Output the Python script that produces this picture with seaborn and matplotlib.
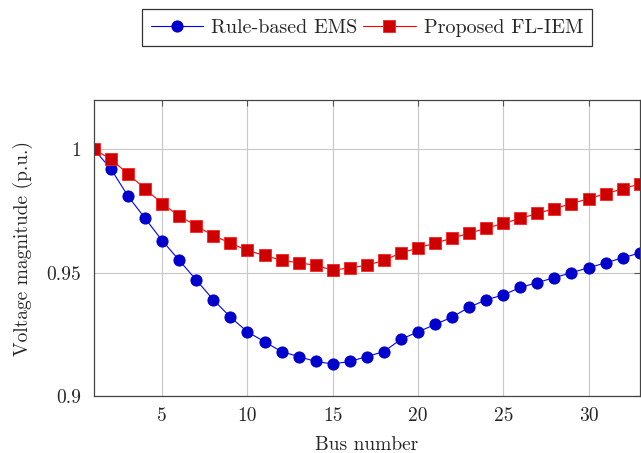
import numpy as np
import pandas as pd
import matplotlib
matplotlib.use("Agg")
import matplotlib.pyplot as plt
import seaborn as sns

# data
bus = list(range(1, 34))
rule_based = [1.000, 0.992, 0.981, 0.972, 0.963, 0.955, 0.947, 0.939, 0.932, 0.926,
              0.922, 0.918, 0.916, 0.914, 0.913, 0.914, 0.916, 0.918, 0.923, 0.926,
              0.929, 0.932, 0.936, 0.939, 0.941, 0.944, 0.946, 0.948, 0.950, 0.952,
              0.954, 0.956, 0.958]
proposed = [1.000, 0.996, 0.990, 0.984, 0.978, 0.973, 0.969, 0.965, 0.962, 0.959,
            0.957, 0.955, 0.954, 0.953, 0.951, 0.952, 0.953, 0.955, 0.958, 0.960,
            0.962, 0.964, 0.966, 0.968, 0.970, 0.972, 0.974, 0.976, 0.978, 0.980,
            0.982, 0.984, 0.986]
x_ticks = [5, 10, 15, 20, 25, 30]
y_ticks = [0.9, 0.95, 1.0]
y_tick_labels = ["0.9", "0.95", "1"]

sns.set_style("white")
plt.rcParams["font.family"] = ["cmr10", "DejaVu Serif"]
plt.rcParams["mathtext.fontset"] = "cm"
plt.rcParams["axes.unicode_minus"] = False

df = pd.DataFrame({"bus": bus, "Rule-based EMS": rule_based, "Proposed FL-IEM": proposed})

fig = plt.figure(figsize=(6.41, 4.53), dpi=100)
ax = fig.add_axes([0.1466, 0.1258, 0.8514, 0.6534])

sns.lineplot(data=df, x="bus", y="Rule-based EMS", ax=ax, color="#0000ff", lw=0.8,
             marker="o", markersize=8, markerfacecolor="#0000cc", markeredgecolor="#0000cc",
             label="Rule-based EMS")
sns.lineplot(data=df, x="bus", y="Proposed FL-IEM", ax=ax, color="#ff0000", lw=0.8,
             marker="s", markersize=8, markerfacecolor="#cc0000", markeredgecolor="#ff2020",
             markeredgewidth=0.6, label="Proposed FL-IEM")

ax.set_xlim(1, 33)
ax.set_ylim(0.9, 1.02)
ax.set_xticks(x_ticks)
ax.set_yticks(y_ticks)
ax.set_yticklabels(y_tick_labels)
ax.grid(True, color="#c8c8c8", lw=0.8)
ax.set_axisbelow(True)
ax.tick_params(direction="in", length=4, width=0.8, color="#555555",
               top=True, right=True, labelsize=14)
ax.tick_params(axis="x", pad=8)
ax.tick_params(axis="y", pad=9)
for s in ax.spines.values():
    s.set_color("#444444")
    s.set_linewidth(0.9)

ax.set_xlabel("Bus number", fontsize=14, labelpad=8)
ax.set_ylabel("Voltage magnitude (p.u.)", fontsize=14, labelpad=10)

ax.legend(loc="center", bbox_to_anchor=(0.5, 1.245), ncol=2, fontsize=14.5,
          frameon=True, fancybox=False, edgecolor="#333333", framealpha=1,
          handlelength=2.6, columnspacing=0.3, handletextpad=0.4, borderpad=0.45)
ax.get_legend().get_frame().set_linewidth(0.9)

plt.savefig("out.png", dpi=100)
